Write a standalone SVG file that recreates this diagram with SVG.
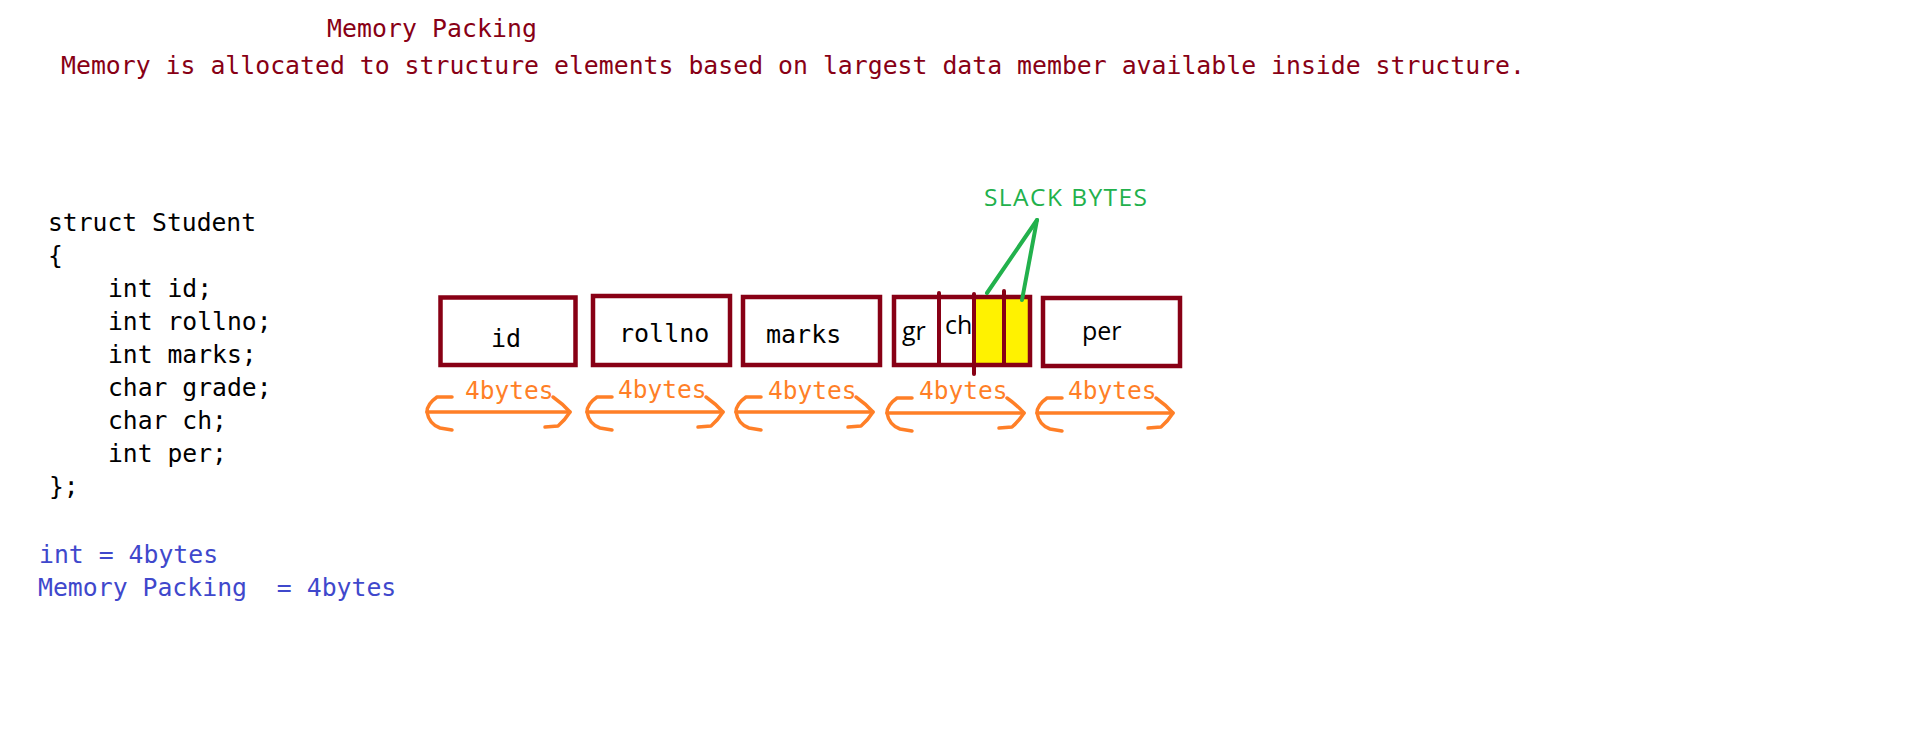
<svg xmlns="http://www.w3.org/2000/svg" width="1914" height="734" viewBox="0 0 1914 734">
<style>
.mono{font-family:"DejaVu Sans Mono","Liberation Mono",monospace;}
.sans{font-family:"Open Sans","Liberation Sans",sans-serif;}
.head{fill:#880015;font-size:24.8px;}
.code{fill:#000;font-size:24.7px;}
.blue{fill:#3f48cc;font-size:24.8px;white-space:pre;}
.lbl{fill:#000;font-size:25px;}
.box{fill:none;stroke:#880015;stroke-width:4.5;}
.div{stroke:#880015;stroke-width:4;stroke-linecap:round;}
.slack{fill:#fff200;}
.arr{fill:none;stroke:#ff7f27;stroke-width:3.5;stroke-linecap:round;stroke-linejoin:round;}
.bytes{fill:#ff7f27;font-size:24.5px;}
.green{fill:#22b14c;font-size:24.5px;}
.gl{stroke:#22b14c;stroke-width:4;stroke-linecap:round;}
</style>
<defs>
<path id="lh" class="arr" d="M 25,-15 L 10,-15 Q 0,-8 0,0 Q 2,12 13,16 L 25,18"/>
<path id="rh" class="arr" d="M -17,-15 Q -7,-8 0,0 Q -5,8 -12,14 L -25,15"/>
</defs>
<g id="header">
<text class="mono head" x="327" y="37" textLength="210">Memory Packing</text>
<text class="mono head" x="61" y="74" textLength="1464">Memory is allocated to structure elements based on largest data member available inside structure.</text>
</g>
<g id="code">
<text class="mono code" x="48" y="230.5">struct Student</text>
<text class="mono code" x="48" y="263.7">{</text>
<text class="mono code" x="108" y="296.7">int id;</text>
<text class="mono code" x="108" y="329.5">int rollno;</text>
<text class="mono code" x="108" y="362.7">int marks;</text>
<text class="mono code" x="108" y="396">char grade;</text>
<text class="mono code" x="108" y="429">char ch;</text>
<text class="mono code" x="108" y="461.7">int per;</text>
<text class="mono code" x="49" y="495">};</text>
</g>
<g id="sizes">
<text class="mono blue" x="39" y="562.7">int = 4bytes</text>
<text class="mono blue" x="38" y="596" xml:space="preserve">Memory Packing  = 4bytes</text>
</g>
<g id="box-id">
<rect class="box" x="440.5" y="297.5" width="135" height="67.5"/>
<text class="mono lbl" x="491" y="347">id</text>
</g>
<g id="box-rollno">
<rect class="box" x="593" y="296" width="137" height="69"/>
<text class="mono lbl" x="619" y="342">rollno</text>
</g>
<g id="box-marks">
<rect class="box" x="743" y="297" width="137" height="68"/>
<text class="mono lbl" x="766" y="343">marks</text>
</g>
<g id="box-grade-ch">
<rect class="slack" x="976" y="299" width="27" height="66"/>
<rect class="slack" x="1006" y="299" width="23" height="66"/>
<rect class="box" x="894" y="297" width="136" height="68"/>
<line class="div" x1="939" y1="293" x2="939" y2="364"/>
<line class="div" x1="974" y1="294" x2="974" y2="374"/>
<line class="div" x1="1004" y1="291" x2="1004" y2="364"/>
<text class="sans lbl" x="902" y="340">gr</text>
<text class="sans lbl" x="945" y="334">ch</text>
</g>
<g id="box-per">
<rect class="box" x="1043" y="298" width="137" height="68"/>
<text class="sans lbl" x="1082" y="340">per</text>
</g>
<g id="slack-label">
<text class="sans green" x="984" y="206" textLength="163">SLACK BYTES</text>
</g>
<g id="connectors">
<line class="gl" x1="1037" y1="220" x2="987" y2="293"/>
<line class="gl" x1="1037" y1="220" x2="1022" y2="300"/>
<g id="arrow-1">
<line class="arr" x1="427" y1="412" x2="570" y2="412"/>
<use href="#lh" x="427" y="412"/><use href="#rh" x="570" y="412"/>
</g>
<g id="arrow-2">
<line class="arr" x1="587" y1="412" x2="723" y2="412"/>
<use href="#lh" x="587" y="412"/><use href="#rh" x="723" y="412"/>
</g>
<g id="arrow-3">
<line class="arr" x1="736" y1="412" x2="873" y2="412"/>
<use href="#lh" x="736" y="412"/><use href="#rh" x="873" y="412"/>
</g>
<g id="arrow-4">
<line class="arr" x1="887" y1="413" x2="1024" y2="413"/>
<use href="#lh" x="887" y="413"/><use href="#rh" x="1024" y="413"/>
</g>
<g id="arrow-5">
<line class="arr" x1="1037" y1="413" x2="1173" y2="413"/>
<use href="#lh" x="1037" y="413"/><use href="#rh" x="1173" y="413"/>
</g>
</g>
<g id="byte-labels">
<text class="mono bytes" x="465" y="399">4bytes</text>
<text class="mono bytes" x="618" y="398">4bytes</text>
<text class="mono bytes" x="768" y="399">4bytes</text>
<text class="mono bytes" x="919" y="399">4bytes</text>
<text class="mono bytes" x="1068" y="399">4bytes</text>
</g>
</svg>
